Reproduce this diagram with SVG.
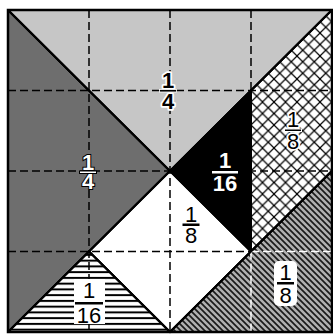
<svg xmlns="http://www.w3.org/2000/svg" width="333" height="334" viewBox="0 0 333 334">
  <defs>
    <pattern id="cross" patternUnits="userSpaceOnUse" x="251" y="10" width="11.5" height="11.5">
      <rect width="11.5" height="11.5" fill="#ffffff"/>
      <path d="M0,0 L11.5,11.5 M11.5,0 L0,11.5" stroke="#000" stroke-width="1.2"/>
    </pattern>
    <pattern id="diag" patternUnits="userSpaceOnUse" width="6" height="6">
      <rect width="6" height="6" fill="#b0b0b0"/>
      <path d="M0,0 L6,6 M-3,3 L3,9 M3,-3 L9,3" stroke="#1a1a1a" stroke-width="1.7"/>
    </pattern>
    <pattern id="horiz" patternUnits="userSpaceOnUse" x="0" y="252" width="6" height="5.75">
      <rect width="6" height="5.75" fill="#ffffff"/>
      <rect y="1.9" width="6" height="2" fill="#000"/>
    </pattern>
    <style>
      .piece { stroke: #000; stroke-width: 2; stroke-linejoin: round; }
      .grid { fill: none; stroke: #000; stroke-width: 1.5; stroke-dasharray: 8 4; }
      .gridw { fill: none; stroke: #fff; stroke-width: 1.5; stroke-dasharray: 8 4; }
      .t { font-family: "Liberation Sans", Arial, sans-serif; font-size: 22px; text-anchor: middle; }
      .b { font-weight: bold; }
      .wo { fill: #fff; stroke: #000; stroke-width: 2; paint-order: stroke; }
      .bo { fill: #000; stroke: #fff; stroke-width: 3.5; paint-order: stroke; stroke-linejoin: round; }
      .blk { fill: #000; }
      .wht { fill: #fff; }
    </style>
  </defs>

  <rect width="333" height="334" fill="#ffffff"/>

  <g id="shapes">
    <g id="big-left"><polygon class="piece" points="8,10 170,171 8,332" fill="#6e6e6e"/></g>
    <g id="big-top"><polygon class="piece" points="8,10 332,10 170,171" fill="#c6c6c6"/></g>
    <g id="parallelogram"><polygon class="piece" points="251,90.5 332,10 332,171 251,251.5" fill="url(#cross)"/></g>
    <g id="small-black"><polygon class="piece" points="170,171 251,90.5 251,251.5" fill="#000"/></g>
    <g id="square"><polygon class="piece" points="170,171 251,251.5 170,332 89,251.5" fill="#ffffff"/></g>
    <g id="small-striped"><polygon class="piece" points="89,251.5 8,332 170,332" fill="url(#horiz)"/></g>
    <g id="medium"><polygon class="piece" points="332,171 332,332 170,332" fill="url(#diag)"/></g>
  </g>

  <g id="grid">
    <path class="grid" d="M89,10 V332 M170,10 V332 M251,10 V251.5 M8,90.5 H332 M8,171 H332 M8,251.5 H251"/>
    <path class="gridw" d="M251,251.5 V332 M251,251.5 H332"/>
  </g>

  <g id="outlines" fill="none" stroke="#000" stroke-width="2">
    <path d="M8,10 L170,171 L332,10 M170,171 L8,332 M170,171 L251,251.5 M89,251.5 L170,332 L332,171 M251,90.5 L251,251.5"/>
    <rect x="8" y="10" width="324" height="322" stroke-width="2.5"/>
  </g>

  <g id="labels">
    <g id="label-left">
      <text class="t b wo"><tspan x="88" y="169.5">1</tspan><tspan x="88" y="189">4</tspan></text>
      <rect x="79.5" y="171" width="17" height="2.5" fill="#fff" stroke="#000" stroke-width="1"/>
    </g>
    <g id="label-top">
      <text class="t b bo"><tspan x="168" y="88">1</tspan><tspan x="168" y="108.5">4</tspan></text>
      <rect x="159.5" y="89.5" width="17" height="2.5" fill="#000" stroke="#fff" stroke-width="0.8"/>
    </g>
    <g id="label-black">
      <text class="t b wht"><tspan x="225" y="168">1</tspan><tspan x="225" y="190.5">16</tspan></text>
      <rect x="212" y="171" width="26" height="2.5" fill="#fff"/>
    </g>
    <g id="label-parallelogram">
      <text class="t bo"><tspan x="293" y="127">1</tspan><tspan x="293" y="148.5">8</tspan></text>
      <rect x="284.5" y="129" width="17" height="2.5" fill="#000" stroke="#fff" stroke-width="1"/>
    </g>
    <g id="label-square">
      <text class="t blk"><tspan x="191" y="222">1</tspan><tspan x="191" y="242.5">8</tspan></text>
      <rect x="182.5" y="223.5" width="17" height="2.5" fill="#000"/>
    </g>
    <g id="label-medium">
      <rect x="274" y="261" width="23" height="45" rx="5" fill="#fff"/>
      <text class="t blk"><tspan x="285.5" y="280">1</tspan><tspan x="285.5" y="302.5">8</tspan></text>
      <rect x="277" y="282" width="17" height="2.5" fill="#000"/>
    </g>
    <g id="label-striped">
      <rect x="74" y="279" width="31" height="45" fill="#fff"/>
      <text class="t blk"><tspan x="89" y="298">1</tspan><tspan x="89" y="323">16</tspan></text>
      <rect x="75" y="302" width="28" height="2.5" fill="#000"/>
    </g>
  </g>
</svg>
